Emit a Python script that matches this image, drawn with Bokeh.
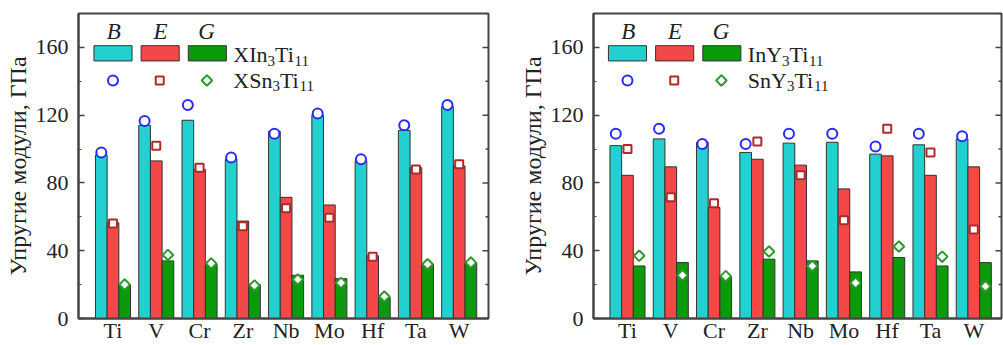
import numpy as np
from bokeh.plotting import figure
from bokeh.layouts import row
from bokeh.models import Range1d, FixedTicker, Label, BoxAnnotation
from bokeh.embed import file_html
from bokeh.resources import INLINE

categories = ["Ti", "V", "Cr", "Zr", "Nb", "Mo", "Hf", "Ta", "W"]

# Left panel: XIn3Ti11 (bars) and XSn3Ti11 (markers)
B_in = [96.5, 114, 117, 94, 110.5, 120, 93, 111, 125]
E_in = [56.5, 93, 88, 57.5, 71.5, 67, 37, 89, 90]
G_in = [20, 34, 32, 20, 25.5, 23.5, 12.5, 32, 33]
B_sn = [98, 116.5, 126, 95, 109, 121, 94, 114, 126]
E_sn = [56, 102, 89, 54.5, 65, 59.5, 36.5, 88, 91]
G_sn = [20, 37.5, 32.5, 19.5, 23, 21, 13, 32, 33]

# Right panel: InY3Ti11 (bars) and SnY3Ti11 (markers)
B_iny = [102, 106, 104, 98, 103.5, 104, 97, 102.5, 106]
E_iny = [84.5, 89.5, 65.5, 94, 90.5, 76.5, 96, 84.5, 89.5]
G_iny = [31, 33, 24.5, 35, 34, 27.5, 36, 31, 33]
B_sny = [109, 112, 103, 103, 109, 109, 101.5, 109, 107.5]
E_sny = [100, 71.5, 68, 104.5, 84.5, 58, 112, 98, 52.5]
G_sny = [37, 25.5, 25, 39.5, 31, 21, 42.5, 36.5, 19]

y_ticks = [0, 40, 80, 120, 160]
y_minor = [20, 60, 100, 140, 180]
y_label = "Упругие модули, ГПа"
legend_letters = ["B", "E", "G"]

FONT = "Liberation Serif"
CYAN = "#22d0d0"
RED = "#f44848"
GREEN = "#0a9a0a"
EDGE = "#333333"
FRAME = "#444444"
MK_B = "#2a2aff"
MK_E = "#b02a2a"
MK_G = "#2a9a2a"
TXT = "#222222"


def make_panel(bars, marks, name_bar, name_mark, width, border_left, border_right, xr):
    p = figure(width=width, height=345, output_backend="svg", toolbar_location=None,
               x_range=Range1d(*xr), y_range=Range1d(0, 180),
               min_border_left=border_left, min_border_right=border_right,
               min_border_top=13, min_border_bottom=0)
    p.grid.visible = False
    p.outline_line_color = FRAME
    p.outline_line_width = 2
    p.background_fill_color = "white"
    p.border_fill_color = "white"

    x = np.arange(1, len(categories) + 1)
    w = 0.27
    offs = [-w, 0.0, w]
    fills = [CYAN, RED, GREEN]
    for vals, off, col in zip(bars, offs, fills):
        p.vbar(x=x + off, top=vals, width=w, bottom=0, fill_color=col,
               line_color=EDGE, line_width=1)

    mks = ["circle", "square", "square"]
    angs = [0, 0, np.pi / 4]
    mcols = [MK_B, MK_E, MK_G]
    msizes = [10, 8, 7.5]
    for vals, off, mk, ang, mc, ms in zip(marks, offs, mks, angs, mcols, msizes):
        p.scatter(x=x + off, y=vals, marker=mk, angle=ang, size=ms, fill_color="white",
                  line_color=mc, line_width=2)

    # x axis
    xa = p.xaxis[0]
    xa.ticker = FixedTicker(ticks=list(x))
    xa.major_label_overrides = {int(i): c for i, c in zip(x, categories)}
    xa.major_tick_in = 0
    xa.major_tick_out = 0
    xa.minor_tick_in = 0
    xa.minor_tick_out = 0
    xa.major_label_standoff = -1
    xa.axis_line_color = FRAME
    xa.axis_line_width = 2
    xa.major_label_text_font = FONT
    xa.major_label_text_font_size = "22px"
    xa.major_label_text_color = TXT

    # y axis
    ya = p.yaxis[0]
    ya.ticker = FixedTicker(ticks=y_ticks, minor_ticks=y_minor)
    ya.major_tick_in = 6
    ya.major_tick_out = 0
    ya.minor_tick_in = 3
    ya.minor_tick_out = 0
    ya.major_tick_line_color = FRAME
    ya.minor_tick_line_color = FRAME
    ya.major_tick_line_width = 1.5
    ya.axis_line_color = FRAME
    ya.axis_line_width = 2
    ya.major_label_standoff = 10
    ya.major_label_text_font = FONT
    ya.major_label_text_font_size = "22px"
    ya.major_label_text_color = TXT
    ya.axis_label = y_label
    ya.axis_label_text_font = FONT
    ya.axis_label_text_font_style = "normal"
    ya.axis_label_text_font_size = "24px"
    ya.axis_label_text_color = TXT
    ya.axis_label_standoff = 2

    # mirrored inward ticks on the right spine
    xe = xr[1]
    p.ray(x=[xe] * len(y_ticks), y=y_ticks, length=6, length_units="screen",
          angle=np.pi, line_color=FRAME, line_width=1.5)
    p.ray(x=[xe] * len(y_minor), y=y_minor, length=3, length_units="screen",
          angle=np.pi, line_color=FRAME, line_width=1.5)

    # custom legend
    sw = [(0.56, 1.44), (1.65, 2.53), (2.74, 3.62)]
    for (l, r), col in zip(sw, fills):
        p.add_layout(BoxAnnotation(left=l, right=r, bottom=152, top=161,
                                   fill_color=col, fill_alpha=1,
                                   line_color=EDGE, line_width=1, line_alpha=1))
    lx = [1.0, 2.08, 3.17]
    for xx, mk, ang, mc, ms in zip(lx, mks, angs, mcols, msizes):
        p.scatter(x=[xx], y=[140.5], marker=mk, angle=ang, size=ms, fill_color="white",
                  line_color=mc, line_width=2)
    for xx, letter in zip([1.02, 2.1, 3.16], legend_letters):
        p.add_layout(Label(x=xx, y=169.2, text=letter, text_align="center",
                           text_baseline="alphabetic", text_font=FONT,
                           text_font_style="italic", text_font_size="23px",
                           text_color=TXT))

    def formula(parts, ybase):
        off = 0.0
        for txt, sub in parts:
            fs = 15 if sub else 22
            p.add_layout(Label(x=3.78, y=ybase, x_offset=off, y_offset=(-6 if sub else 0),
                               text=txt, text_align="left", text_baseline="alphabetic",
                               text_font=FONT, text_font_size=f"{fs}px",
                               text_color=TXT))
            off += widths[txt] * fs
    formula(name_bar, 155.8)
    formula(name_mark, 140.6)
    return p


widths = {"XIn": 1.555, "XSn": 1.778, "InY": 1.555, "SnY": 1.778,
          "3": 0.5, "Ti": 0.889, "11": 1.0}

left_bar_name = [("XIn", False), ("3", True), ("Ti", False), ("11", True)]
left_mark_name = [("XSn", False), ("3", True), ("Ti", False), ("11", True)]
right_bar_name = [("InY", False), ("3", True), ("Ti", False), ("11", True)]
right_mark_name = [("SnY", False), ("3", True), ("Ti", False), ("11", True)]

p1 = make_panel([B_in, E_in, G_in], [B_sn, E_sn, G_sn], left_bar_name, left_mark_name,
                498, 78, 10, (0.203, 9.677))
p2 = make_panel([B_iny, E_iny, G_iny], [B_sny, E_sny, G_sny], right_bar_name, right_mark_name,
                505, 95, 2, (0.215, 9.64))

layout = row(p1, p2, spacing=0)
open("out.html", "w").write(file_html(layout, INLINE))
